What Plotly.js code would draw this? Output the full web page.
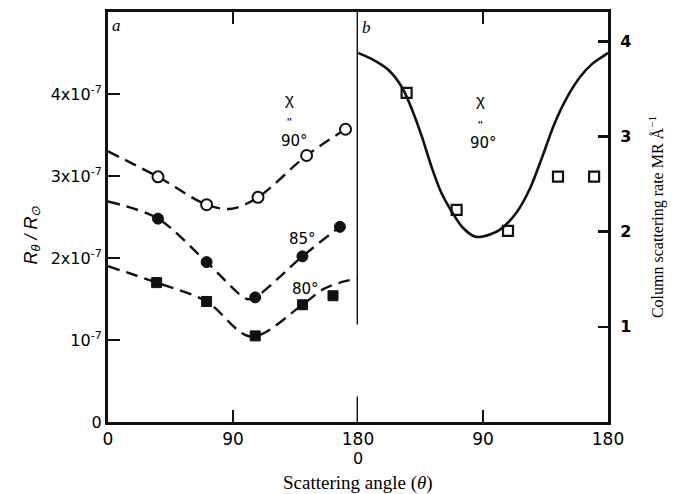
<!DOCTYPE html>
<html>
<head>
<meta charset="utf-8">
<script src="https://cdn.plot.ly/plotly-3.0.1.min.js"></script>
<style>html,body{margin:0;padding:0;background:#fff;}#chart{width:675px;height:494px;}</style>
</head>
<body>
<div id="chart"></div>
<script>
// Panel a: measured points (scattering angle, R_theta/R_sun)
var aAngles90 = [36, 71, 108, 143, 171];
var aValues90 = [2.99e-7, 2.65e-7, 2.74e-7, 3.25e-7, 3.57e-7];
var aAngles85 = [36, 71, 106, 140, 167];
var aValues85 = [2.48e-7, 1.95e-7, 1.52e-7, 2.02e-7, 2.38e-7];
var aAngles80 = [35, 71, 106, 140, 162];
var aValues80 = [1.70e-7, 1.47e-7, 1.05e-7, 1.43e-7, 1.54e-7];

// Panel a: dashed model curves
var cAngles90 = [0, 36, 71, 89, 108, 143, 171];
var cValues90 = [3.30e-7, 2.99e-7, 2.65e-7, 2.60e-7, 2.74e-7, 3.25e-7, 3.57e-7];
var cAngles85 = [0, 36, 71, 100, 106, 140, 167, 174];
var cValues85 = [2.69e-7, 2.48e-7, 1.95e-7, 1.50e-7, 1.52e-7, 2.02e-7, 2.38e-7, 2.46e-7];
var cAngles80 = [0, 35, 71, 103, 140, 155, 167, 180];
var cValues80 = [1.90e-7, 1.70e-7, 1.47e-7, 1.04e-7, 1.43e-7, 1.62e-7, 1.70e-7, 1.75e-7];

// Panel b: column scattering rate
var bAngles = [35, 71, 108, 144, 170];
var bValues = [3.46, 2.23, 2.01, 2.58, 2.58];
var bCurveAngles = [0, 12, 22, 32, 39, 46, 53, 60, 68, 75, 84, 90, 102, 114, 124, 133, 141, 150, 160, 169, 178, 180];
var bCurveValues = [3.88, 3.80, 3.70, 3.51, 3.28, 3.00, 2.68, 2.41, 2.20, 2.05, 1.95, 1.95, 2.02, 2.20, 2.46, 2.80, 3.12, 3.40, 3.63, 3.77, 3.86, 3.88];

var leftTickVals = [0, 1e-7, 2e-7, 3e-7, 4e-7];
var leftTickText = ['0', '10<sup>-7</sup>', '2x10<sup>-7</sup>', '3x10<sup>-7</sup>', '4x10<sup>-7</sup>'];
var rightTickVals = [1, 2, 3, 4];
var rightTickText = ['1', '2', '3', '4'];
var xTickValsA = [0, 90, 180];
var xTickTextA = ['0', '90', '180'];
var xTickValsB = [90, 180];
var xTickTextB = ['90', '180'];
var xSecondZeroLabel = '0';

var dashStyle = '12px,7px';
var lineCol = '#111';

var traces = [
  {x: cAngles90, y: cValues90, mode: 'lines', line: {shape: 'spline', smoothing: 0.9, dash: dashStyle, color: lineCol, width: 2.4}, xaxis: 'x', yaxis: 'y', hoverinfo: 'skip'},
  {x: cAngles85, y: cValues85, mode: 'lines', line: {shape: 'spline', smoothing: 0.9, dash: dashStyle, color: lineCol, width: 2.4}, xaxis: 'x', yaxis: 'y', hoverinfo: 'skip'},
  {x: cAngles80, y: cValues80, mode: 'lines', line: {shape: 'spline', smoothing: 0.9, dash: dashStyle, color: lineCol, width: 2.4}, xaxis: 'x', yaxis: 'y', hoverinfo: 'skip'},
  {x: aAngles90, y: aValues90, mode: 'markers', marker: {symbol: 'circle', size: 11, color: '#fff', line: {color: lineCol, width: 2}}, xaxis: 'x', yaxis: 'y'},
  {x: aAngles85, y: aValues85, mode: 'markers', marker: {symbol: 'circle', size: 11, color: lineCol, line: {color: lineCol, width: 1}}, xaxis: 'x', yaxis: 'y'},
  {x: aAngles80, y: aValues80, mode: 'markers', marker: {symbol: 'square', size: 10, color: lineCol, line: {color: lineCol, width: 1}}, xaxis: 'x', yaxis: 'y'},
  {x: bCurveAngles, y: bCurveValues, mode: 'lines', line: {shape: 'spline', smoothing: 0.8, color: lineCol, width: 2.6}, xaxis: 'x2', yaxis: 'y2', hoverinfo: 'skip'},
  {x: bAngles, y: bValues, mode: 'markers', marker: {symbol: 'square-open', size: 10, color: lineCol, line: {color: lineCol, width: 2.2}}, xaxis: 'x2', yaxis: 'y2'}
];

var sans = 'DejaVu Sans, Liberation Sans, sans-serif';
var tickFont = {family: sans, size: 16, color: '#000'};
var xTickFont = {family: sans, size: 17, color: '#000'};
var serif = 'Liberation Serif, Times New Roman, serif';

var layout = {
  width: 675, height: 494,
  margin: {l: 108, r: 67, t: 12, b: 72},
  paper_bgcolor: '#fff', plot_bgcolor: '#fff',
  showlegend: false,
  xaxis: {domain: [0, 0.5], range: [0, 180], tickvals: xTickValsA, ticktext: xTickTextA, ticks: 'inside', ticklen: 12, tickwidth: 2.5, tickcolor: lineCol,
          showline: true, linewidth: 3, linecolor: lineCol, mirror: 'ticks', showgrid: false, zeroline: false, tickfont: xTickFont, anchor: 'y', ticklabelstandoff: 0},
  yaxis: {domain: [0, 1], range: [0, 5.0e-7], tickvals: leftTickVals, ticktext: leftTickText, ticks: 'inside', ticklen: 12, tickwidth: 2.5, tickcolor: lineCol,
          showline: true, linewidth: 3, linecolor: lineCol, showgrid: false, zeroline: false, tickfont: tickFont, anchor: 'x', ticklabelstandoff: 0},
  xaxis2: {domain: [0.5, 1], range: [0, 180], tickvals: xTickValsB, ticktext: xTickTextB, ticks: 'inside', ticklen: 12, tickwidth: 2.5, tickcolor: lineCol,
           showline: true, linewidth: 3, linecolor: lineCol, mirror: 'ticks', showgrid: false, zeroline: false, tickfont: xTickFont, anchor: 'y2', ticklabelstandoff: 0},
  yaxis2: {domain: [0, 1], range: [0, 4.31], tickvals: rightTickVals, ticktext: rightTickText, ticks: 'inside', ticklen: 10, tickwidth: 2.5, tickcolor: lineCol,
           showline: true, linewidth: 3, linecolor: lineCol, showgrid: false, zeroline: false, side: 'right', anchor: 'x2', ticklabelstandoff: 6,
           tickfont: {family: sans, size: 16, color: '#000', weight: 'bold'},
           title: {text: 'Column scattering rate MR Å<sup>−1</sup>', font: {family: serif, size: 16, color: '#000'}, standoff: 22}},
  shapes: [
    {type: 'line', xref: 'x', yref: 'y', x0: 180, x1: 180, y0: 1.19e-7, y1: 5.0e-7, line: {color: lineCol, width: 2.8}},
    {type: 'line', xref: 'x', yref: 'y', x0: 180, x1: 180, y0: 0, y1: 0.31e-7, line: {color: lineCol, width: 2.8}}
  ],
  annotations: [
    {xref: 'paper', yref: 'paper', x: -0.152, y: 0.455, xanchor: 'center', yanchor: 'middle', textangle: -90, text: '<i>R<sub>θ</sub> / R<sub>⊙</sub></i>', showarrow: false, font: {family: 'Liberation Sans, sans-serif', size: 18, color: '#000'}},
    {xref: 'x', yref: 'paper', x: 180, y: -0.09, xanchor: 'center', yanchor: 'middle', text: xSecondZeroLabel, showarrow: false, font: {family: sans, size: 16, color: '#000'}},
    {xref: 'x', yref: 'y', x: 6, y: 4.84e-7, text: '<i>a</i>', showarrow: false, font: {family: serif, size: 17, color: '#000'}},
    {xref: 'x2', yref: 'y2', x: 6, y: 4.15, text: '<i>b</i>', showarrow: false, font: {family: serif, size: 17, color: '#000'}},
    {xref: 'x', yref: 'y', x: 131, y: 3.93e-7, text: 'χ', showarrow: false, font: {family: 'Liberation Sans, sans-serif', size: 17, color: '#000'}},
    {xref: 'x', yref: 'y', x: 131, y: 3.65e-7, text: '"', showarrow: false, font: {family: 'Liberation Sans, sans-serif', size: 13, color: '#000'}},
    {xref: 'x', yref: 'y', x: 134, y: 3.43e-7, text: '90°', showarrow: false, font: {family: sans, size: 15, color: '#000'}},
    {xref: 'x', yref: 'y', x: 140, y: 2.23e-7, text: '85°', showarrow: false, font: {family: sans, size: 15, color: '#000'}},
    {xref: 'x', yref: 'y', x: 142, y: 1.62e-7, text: '80°', showarrow: false, font: {family: sans, size: 15, color: '#000'}},
    {xref: 'x2', yref: 'y2', x: 88, y: 3.38, text: 'χ', showarrow: false, font: {family: 'Liberation Sans, sans-serif', size: 17, color: '#000'}},
    {xref: 'x2', yref: 'y2', x: 88, y: 3.12, text: '"', showarrow: false, font: {family: 'Liberation Sans, sans-serif', size: 13, color: '#000'}},
    {xref: 'x2', yref: 'y2', x: 90, y: 2.93, text: '90°', showarrow: false, font: {family: sans, size: 15, color: '#000'}},
    {xref: 'paper', yref: 'paper', x: 0.5, y: -0.148, yanchor: 'middle', text: 'Scattering angle (<i>θ</i>)', showarrow: false, font: {family: serif, size: 19, color: '#000'}}
  ]
};

Plotly.newPlot('chart', traces, layout, {staticPlot: true, displayModeBar: false});
</script>
</body>
</html>
